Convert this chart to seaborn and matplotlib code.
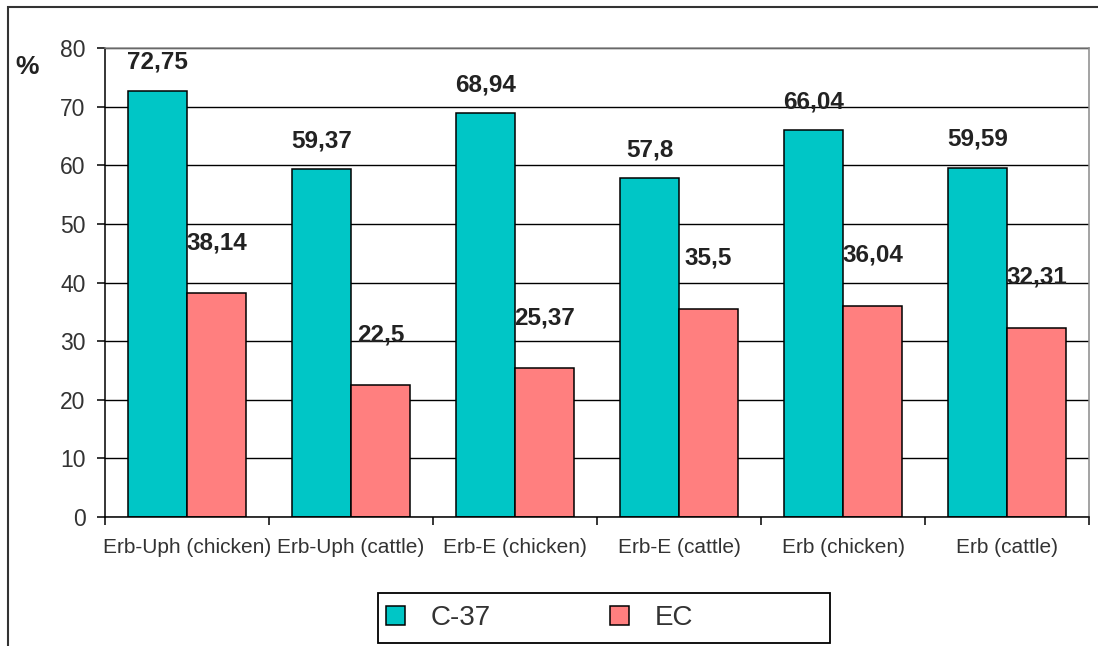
import pandas as pd
import matplotlib
matplotlib.use("Agg")
import matplotlib.pyplot as plt
import seaborn as sns
from matplotlib.patches import Rectangle, Patch

# data
categories = ["Erb-Uph (chicken)", "Erb-Uph (cattle)", "Erb-E (chicken)",
              "Erb-E (cattle)", "Erb (chicken)", "Erb (cattle)"]
c37_values = [72.75, 59.37, 68.94, 57.8, 66.04, 59.59]
ec_values = [38.14, 22.5, 25.37, 35.5, 36.04, 32.31]
series_names = ["C-37", "EC"]
y_ticks = [0, 10, 20, 30, 40, 50, 60, 70, 80]

df = pd.DataFrame({
    "category": categories * 2,
    "value": c37_values + ec_values,
    "series": [series_names[0]] * len(categories) + [series_names[1]] * len(categories),
})

sns.set_style("white")
plt.rcParams['font.family'] = ['Liberation Sans', 'DejaVu Sans']

colors = ["#00C6C6", "#FF7F7F"]

fig = plt.figure(figsize=(10.98, 6.46), dpi=100)
ax = fig.add_axes([105 / 1098, 1 - 517 / 646, (1089 - 105) / 1098, (517 - 48) / 646])

sns.barplot(data=df, x="category", y="value", hue="series", order=categories,
            hue_order=series_names, palette=colors, width=0.72,
            edgecolor="black", linewidth=1.1, saturation=1, legend=False, ax=ax)

ax.set_xlim(-0.5, len(categories) - 0.5)
ax.set_ylim(0, 80)
ax.set_yticks(y_ticks)
ax.set_xlabel("")
ax.set_ylabel("")

# gridlines (black) behind bars
ax.set_axisbelow(True)
ax.yaxis.grid(True, color="black", linewidth=1.0)
ax.xaxis.grid(False)

for side in ["left", "bottom"]:
    ax.spines[side].set_color("black")
    ax.spines[side].set_linewidth(1.1)
for side in ["top", "right"]:
    ax.spines[side].set_color("#8a8a8a")
    ax.spines[side].set_linewidth(1.1)

ax.tick_params(axis="y", direction="out", length=6, width=1.1, color="black",
               labelsize=16.5, labelcolor="#333333", pad=8, left=True)

# x: tick marks at group boundaries, labels at group centres
ax.set_xticks([i - 0.5 for i in range(len(categories) + 1)])
ax.set_xticklabels([])
ax.set_xticks(range(len(categories)), minor=True)
ax.set_xticklabels(categories, minor=True)
ax.tick_params(axis="x", which="major", direction="out", length=6, width=1.1,
               color="black", bottom=True)
ax.tick_params(axis="x", which="minor", length=0, labelsize=15,
               labelcolor="#333333", pad=15)

# value labels
fmt = lambda v: f"{v:g}".replace(".", ",")
ax.bar_label(ax.containers[0], fmt=fmt, padding=12, fontsize=17.5,
             fontweight="bold", color="#222222")
ax.bar_label(ax.containers[1], fmt=fmt, padding=28, fontsize=17.5,
             fontweight="bold", color="#222222")

fig.text(27 / 1098, 1 - 67 / 646, "%", fontsize=19, fontweight="bold",
         color="#222222", ha="center", va="center")

# legend
handles = [Patch(facecolor=c, edgecolor="black", linewidth=1.1) for c in colors]
fig.legend(handles, series_names, loc="center left",
           bbox_to_anchor=(386 / 1098, 1 - 618 / 646), ncol=2, frameon=False,
           borderaxespad=0, borderpad=0,
           fontsize=20, handlelength=0.7, handleheight=0.7, handletextpad=0.9,
           columnspacing=4.3, labelcolor="#333333")
fig.patches.append(Rectangle((378 / 1098, 1 - 643 / 646), 452 / 1098, 50 / 646,
                             transform=fig.transFigure, fill=False,
                             edgecolor="black", linewidth=1.3))

# outer chart frame
fig.patches.append(Rectangle((8 / 1098, -0.05), 1.1, 1 - 7 / 646 + 0.05,
                             transform=fig.transFigure, fill=False,
                             edgecolor="#333333", linewidth=1.5))

fig.savefig("out.png", dpi=100)
